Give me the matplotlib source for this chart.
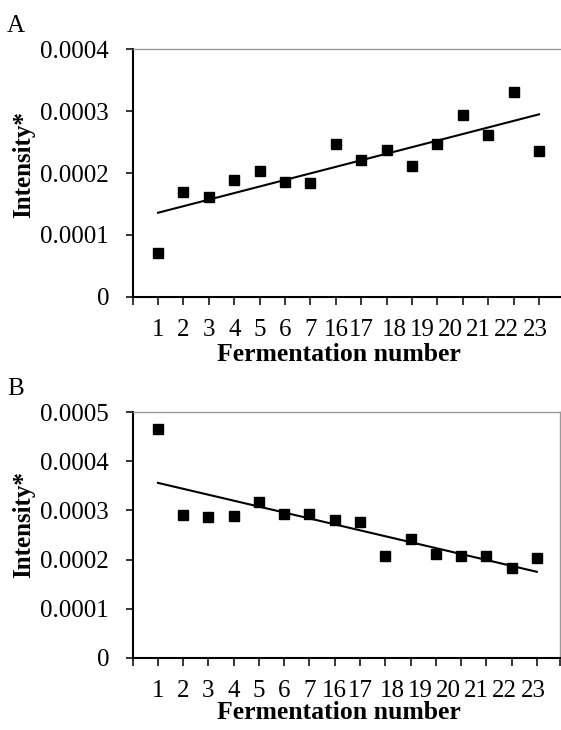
import numpy as np
import matplotlib
matplotlib.use("Agg")
import matplotlib.pyplot as plt

plt.rcParams['font.family'] = ['Liberation Serif', 'DejaVu Serif']

# fermentation labels shown under the axis (16 runs, the 15th run has no label)
ferm_labels = ['1', '2', '3', '4', '5', '6', '7', '16', '17', '18', '19', '20', '21', '22', '23']
label_pos = [1, 2, 3, 4, 5, 6, 7, 8, 9, 10.3, 11.4, 12.5, 13.6, 14.7, 15.85]
run_pos = np.arange(1, 17)

intensity_a = [0.0000702, 0.0001688, 0.0001607, 0.0001882, 0.0002032, 0.0001850,
               0.0001843, 0.0002464, 0.0002210, 0.0002377, 0.0002118, 0.0002464,
               0.0002938, 0.0002610, 0.0003310, 0.0002356]
intensity_b = [0.0004660, 0.0002907, 0.0002870, 0.0002886, 0.0003166, 0.0002920,
               0.0002920, 0.0002800, 0.0002765, 0.0002078, 0.0002418, 0.0002113,
               0.0002078, 0.0002066, 0.0001821, 0.0002030]

yticks_a = [0, 0.0001, 0.0002, 0.0003, 0.0004]
yticks_b = [0, 0.0001, 0.0002, 0.0003, 0.0004, 0.0005]

W, H = 561, 730


def draw_panel(ax, vals, yticks, xmax):
    ax.plot(run_pos, vals, 's', color='black', ms=6.7, clip_on=False, zorder=3)
    k, b = np.polyfit(run_pos, vals, 1)
    ax.plot(run_pos[[0, -1]], k * run_pos[[0, -1]] + b, color='black', lw=1.5)

    ax.set_xlim(0, xmax)
    ax.set_ylim(yticks[0], yticks[-1])
    # tick marks on every run, labels on their own (unmarked) minor ticks
    ax.xaxis.remove_overlapping_locs = False
    ax.set_xticks(list(range(17)) + [xmax])
    ax.set_xticklabels([])
    ax.set_xticks(label_pos, ferm_labels, minor=True)
    ax.set_yticks(yticks, ['0'] + ['%.4f' % t for t in yticks[1:]])

    ax.tick_params(axis='x', which='major', direction='out', length=5.8, width=1.1)
    ax.tick_params(axis='x', which='minor', length=0, pad=16, labelsize=18)
    ax.tick_params(axis='y', direction='out', length=5, width=1.1, pad=12, labelsize=18)

    for side in ['left', 'bottom']:
        ax.spines[side].set_linewidth(1.5)
    for side in ['top', 'right']:
        ax.spines[side].set_color('#999999')
        ax.spines[side].set_linewidth(1.0)

    ax.set_xlabel('Fermentation number', fontsize=18.5, fontweight='bold')
    ax.set_ylabel('Intensity*', fontsize=18, fontweight='bold')
    return ax


fig = plt.figure(figsize=(W / 100, H / 100), dpi=100)

ax_a = fig.add_axes([132.7 / W, 1 - 296.7 / H, 17 * 25.4 / W, 247.4 / H])
draw_panel(ax_a, intensity_a, yticks_a, 17)
ax_a.xaxis.set_label_coords(0.478, -0.186)
ax_a.yaxis.set_label_coords(-0.226, 0.535)

ax_b = fig.add_axes([132.7 / W, 1 - 657.7 / H, (560.3 - 132.7) / W, 245.4 / H])
draw_panel(ax_b, intensity_b, yticks_b, 16.93)
ax_b.xaxis.set_label_coords(0.4825, -0.176)
ax_b.yaxis.set_label_coords(-0.2285, 0.541)

fig.text(7 / W, 1 - 32 / H, 'A', fontsize=18, va='baseline', ha='left')
fig.text(7 / W, 1 - 395 / H, 'B', fontsize=18, va='baseline', ha='left')

fig.savefig('out.png', dpi=100)
